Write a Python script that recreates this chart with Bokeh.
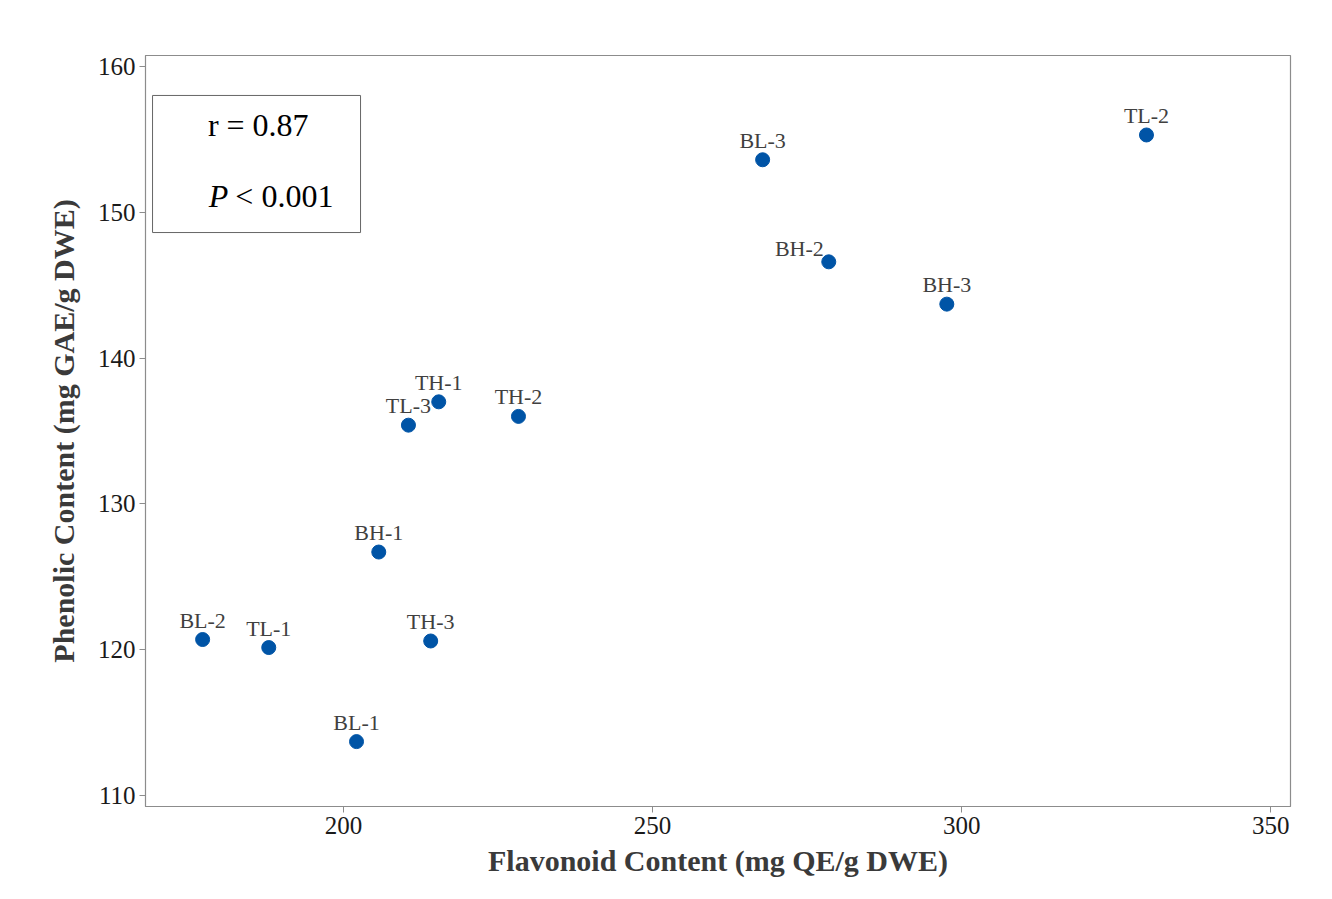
from bokeh.plotting import figure
from bokeh.models import ColumnDataSource, Range1d, FixedTicker, BoxAnnotation, Label
from bokeh.embed import file_html
from bokeh.resources import INLINE
from bokeh.core.properties import value

# data
samples = ["BL-2", "TL-1", "BL-1", "BH-1", "TH-3", "TL-3", "TH-1", "TH-2",
           "BL-3", "BH-2", "BH-3", "TL-2"]
flavonoid = [177.2, 187.9, 202.1, 205.7, 214.1, 210.5, 215.4, 228.3,
             267.8, 278.5, 297.6, 329.9]
phenolic = [120.7, 120.15, 113.7, 126.7, 120.6, 135.4, 137.0, 136.0,
            153.6, 146.6, 143.7, 155.3]
x_ticks = [200, 250, 300, 350]
y_ticks = [110, 120, 130, 140, 150, 160]
stat_r = "r = 0.87"
stat_p_sym = "P"
stat_p_rest = "< 0.001"
left_labelled = ["BH-2"]

FONT = "Liberation Serif"

p = figure(width=1332, height=899, output_backend="svg", toolbar_location=None,
           x_range=Range1d(167.96, 353.2), y_range=Range1d(109.25, 160.75),
           min_border_left=145, min_border_right=42, min_border_top=55,
           min_border_bottom=93)
p.grid.visible = False
p.outline_line_color = "#8c8c8c"
p.outline_line_width = 1.2

for ax in (p.xaxis[0], p.yaxis[0]):
    ax.axis_line_color = "#8c8c8c"
    ax.major_tick_line_color = "#8c8c8c"
    ax.minor_tick_line_color = None
    ax.major_tick_in = 0
    ax.major_tick_out = 6
    ax.major_label_text_font = FONT
    ax.major_label_text_font_size = "25px"
    ax.major_label_text_color = "#1a1a1a"
    ax.axis_label_text_font = FONT
    ax.axis_label_text_font_size = "30px"
    ax.axis_label_text_font_style = "bold"
    ax.axis_label_text_color = "#3a3a3a"

p.xaxis.ticker = FixedTicker(ticks=x_ticks)
p.yaxis.ticker = FixedTicker(ticks=y_ticks)
p.xaxis.axis_label = "Flavonoid Content (mg QE/g DWE)"
p.yaxis.axis_label = "Phenolic Content (mg GAE/g DWE)"
p.xaxis.axis_label_standoff = 7
p.yaxis.axis_label_standoff = 15
p.xaxis.major_label_standoff = 4
p.yaxis.major_label_standoff = 4

src = ColumnDataSource(dict(x=flavonoid, y=phenolic, name=samples))
p.scatter("x", "y", source=src, size=14, fill_color="#0054a6", line_color="#0054a6")

idx_c = [i for i, s in enumerate(samples) if s not in left_labelled]
idx_l = [i for i, s in enumerate(samples) if s in left_labelled]
src_c = ColumnDataSource(dict(x=[flavonoid[i] for i in idx_c], y=[phenolic[i] for i in idx_c],
                              name=[samples[i] for i in idx_c]))
src_l = ColumnDataSource(dict(x=[flavonoid[i] for i in idx_l], y=[phenolic[i] for i in idx_l],
                              name=[samples[i] for i in idx_l]))
common = dict(text="name", text_font=value(FONT), text_font_size="22px",
              text_color="#404040", text_baseline="bottom")
p.text("x", "y", source=src_c, text_align="center", y_offset=-7, **common)
p.text("x", "y", source=src_l, text_align="right", x_offset=-5, y_offset=-1, **common)

box = BoxAnnotation(left=169.1, right=202.75, bottom=148.61, top=158.01,
                    fill_color="white", fill_alpha=1, line_color="#666666",
                    line_alpha=1, line_width=1)
p.add_layout(box)
p.add_layout(Label(x=186.2, y=155.95, text=stat_r, text_font=FONT, text_font_size="32px",
                   text_align="center", text_baseline="middle", text_color="black"))
p.add_layout(Label(x=178.2, y=151.1, text=stat_p_sym, text_font=FONT, text_font_size="32px",
                   text_font_style="italic", text_align="left", text_baseline="middle",
                   text_color="black"))
p.add_layout(Label(x=182.5, y=151.1, text=stat_p_rest, text_font=FONT, text_font_size="32px",
                   text_align="left", text_baseline="middle", text_color="black"))

open("out.html", "w").write(file_html(p, INLINE))
